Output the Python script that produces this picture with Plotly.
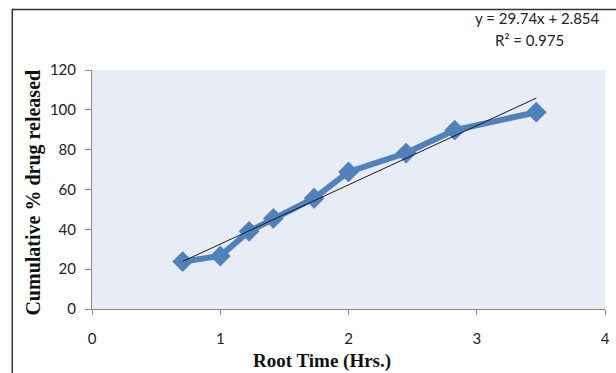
import plotly.graph_objects as go

root_time = [0.707, 1.0, 1.225, 1.414, 1.732, 2.0, 2.449, 2.828, 3.464]
cum_release = [23.8, 26.6, 39.0, 45.5, 55.6, 68.8, 78.3, 89.8, 98.8]
slope = 29.74
intercept = 2.854
eq_text = "y = 29.74x + 2.854"
r2_text = "R² = 0.975"
x_title = "Root Time (Hrs.)"
y_title = "Cumulative % drug released"
x_ticks = [0, 1, 2, 3, 4]
y_ticks = [0, 20, 40, 60, 80, 100, 120]

W, H = 616, 373
L, R, T, B = 92, 6, 70, 64
pw = W - L - R
ph = H - T - B

def px(xpix):
    return (xpix - L) / pw

def py(ypix):
    return (H - B - ypix) / ph

trend_x = [root_time[0], root_time[-1]]
trend_y = [slope * v + intercept for v in trend_x]

fig = go.Figure()
fig.add_trace(go.Scatter(
    x=root_time, y=cum_release, mode="lines+markers",
    line=dict(color="#4F81BD", width=6),
    marker=dict(symbol="diamond", size=16, color="#4F81BD"),
    showlegend=False,
))
fig.add_trace(go.Scatter(
    x=trend_x, y=trend_y, mode="lines",
    line=dict(color="#1a1a1a", width=1),
    showlegend=False,
))

tickfont = dict(family="Lato, Open Sans, sans-serif", size=15, color="#222222")
fig.update_xaxes(
    range=[0, 4], tickvals=x_ticks, showgrid=False, zeroline=False,
    showline=True, linecolor="#8a8a8a", linewidth=1,
    ticks="outside", ticklen=5, tickcolor="#8a8a8a",
    tickfont=tickfont, ticklabelstandoff=11,
)
fig.update_yaxes(
    range=[0, 120], tickvals=y_ticks, showgrid=False, zeroline=False,
    showline=True, linecolor="#8a8a8a", linewidth=1,
    ticks="outside", ticklen=6, tickcolor="#8a8a8a",
    tickfont=tickfont, ticklabelstandoff=6,
)

annots = [
    dict(text=f"<b>{x_title}</b>", x=px(324), y=py(361), xref="paper", yref="paper",
         showarrow=False, xanchor="center", yanchor="middle",
         font=dict(family="Liberation Serif, serif", size=19, color="#111111")),
    dict(text=f"<b>{y_title}</b>", x=px(32), y=py(193), xref="paper", yref="paper",
         showarrow=False, xanchor="center", yanchor="middle", textangle=-90,
         font=dict(family="Liberation Serif, serif", size=20, color="#111111")),
    dict(text=eq_text, x=px(542), y=py(18), xref="paper", yref="paper",
         showarrow=False, xanchor="center", yanchor="middle",
         font=dict(family="Lato, Open Sans, sans-serif", size=15, color="#222222")),
    dict(text=r2_text, x=px(534), y=py(40), xref="paper", yref="paper",
         showarrow=False, xanchor="center", yanchor="middle",
         font=dict(family="Lato, Open Sans, sans-serif", size=15, color="#222222")),
]

shapes = [
    dict(type="line", xref="paper", yref="paper", x0=px(11), x1=px(640), y0=py(9.5), y1=py(9.5),
         line=dict(color="#333333", width=1.5)),
    dict(type="line", xref="paper", yref="paper", x0=px(11.5), x1=px(11.5), y0=py(9.5), y1=py(373),
         line=dict(color="#333333", width=1.5)),
]

fig.update_layout(
    width=W, height=H,
    margin=dict(l=L, r=R, t=T, b=B),
    plot_bgcolor="#E8ECF4", paper_bgcolor="white",
    annotations=annots, shapes=shapes,
)

fig.write_html("out.html", config={"displayModeBar": False},
               post_script="document.body.style.margin='0';document.body.style.overflow='hidden';")
